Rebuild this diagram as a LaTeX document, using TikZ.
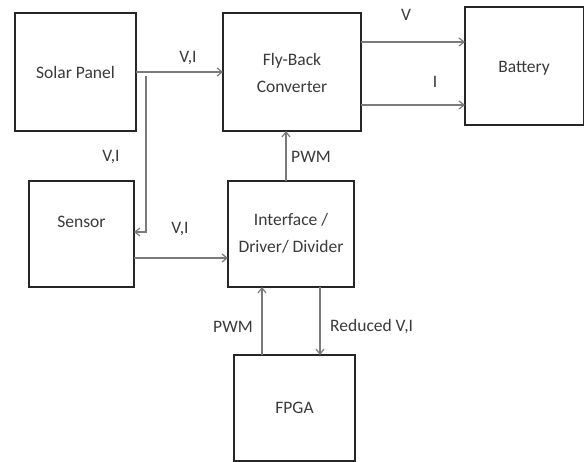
\documentclass[tikz,border=0pt]{standalone}
\usepackage{fontspec}
\setmainfont{Carlito}
\usetikzlibrary{arrows.meta}
\definecolor{txt}{HTML}{3A3A3A}
\definecolor{ln}{HTML}{7A7A7A}
\tikzset{
  blk/.style={draw=black!85, line width=1.8pt, fill=white},
  conn/.style={draw=ln, line width=1.2pt, -{Straight Barb[length=5pt,width=8pt]}},
  lbl/.style={text=txt, font=\fontsize{17.5}{20}\selectfont, inner sep=0pt},
  lbl2/.style={lbl, align=center, font=\fontsize{17.5}{27}\selectfont},
}
\begin{document}
\begin{tikzpicture}[x=1pt,y=-1pt]
\useasboundingbox (0,0) rectangle (585,462);
% boxes
\draw[blk] (15,13) rectangle (136,131);
\node[lbl] (solar) at (75.5,72) {Solar Panel};
\coordinate (solarR) at (136,72);
\draw[blk] (223,13) rectangle (361,131);
\node[lbl2] (fly) at (292,73) {Fly-Back\\Converter};
\draw[blk] (465,7) rectangle (583.5,125);
\node[lbl] (bat) at (524,68) {Battery};
\draw[blk] (29,181) rectangle (134,287);
\node[lbl] (sensor) at (81.5,222) {Sensor};
\draw[blk] (228,181) rectangle (354,287);
\node[lbl2] (iface) at (291,233) {Interface /\\Driver/ Divider};
\draw[blk] (234,355) rectangle (355,461);
\node[lbl] (fpga) at (294.5,408) {FPGA};
% connectors
\coordinate (flyL) at (223,72);
\draw[conn] (solarR) -- (flyL);
\node[lbl] at (188,58) {V,I};
\coordinate (br1) at (146,76);
\coordinate (br2) at (146,232);
\coordinate (sensR) at (134,232);
\draw[conn] (br1) -- (br2) -- (sensR);
\node[lbl] at (111,157) {V,I};
\coordinate (sensO) at (134,258);
\coordinate (ifL) at (228,258);
\draw[conn] (sensO) -- (ifL);
\node[lbl] at (180,229) {V,I};
\coordinate (ifT) at (286,181);
\coordinate (flyB) at (286,131);
\draw[conn] (ifT) -- (flyB);
\node[lbl] at (311,157) {PWM};
\coordinate (flyV) at (361,42);
\coordinate (batV) at (465,42);
\draw[conn] (flyV) -- (batV);
\node[lbl] at (406,15) {V};
\coordinate (flyI) at (361,105);
\coordinate (batI) at (465,105);
\draw[conn] (flyI) -- (batI);
\node[lbl] at (435,82) {I};
\coordinate (fpT1) at (262,355);
\coordinate (ifB1) at (262,287);
\draw[conn] (fpT1) -- (ifB1);
\node[lbl] at (233,327) {PWM};
\coordinate (ifB2) at (320,287);
\coordinate (fpT2) at (320,355);
\draw[conn] (ifB2) -- (fpT2);
\node[lbl, anchor=west] at (330,327) {Reduced V,I};
\end{tikzpicture}
\end{document}
